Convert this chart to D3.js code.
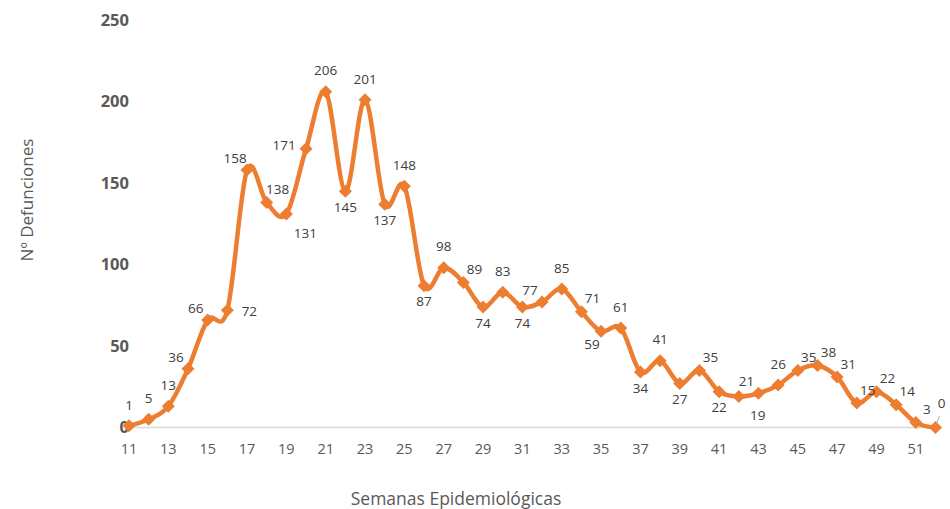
<!DOCTYPE html>
<html lang="es">
<head>
<meta charset="UTF-8">
<title>Defunciones por semana epidemiológica</title>
<style>
  body { margin: 0; background: #fff; }
  svg { display: block; font-family: "Open Sans", "Noto Sans", sans-serif; }
</style>
</head>
<body>
<div id="chart"></div>
<script src="https://cdnjs.cloudflare.com/ajax/libs/d3/7.8.5/d3.min.js"></script>
<script>
// semanas 11..52
var weeks = d3.range(11, 53);
var deaths = [1, 5, 13, 36, 66, 72, 158, 138, 131, 171, 206, 145, 201, 137, 148,
              87, 98, 89, 74, 83, 74, 77, 85, 71, 59, 61, 34, 41, 27, 35, 22,
              19, 21, 26, 35, 38, 31, 15, 22, 14, 3, 0];
// where each data label sits relative to its point
var labelPos = ['n','n','n','nw','nw','e','nw','ne','se','w','n','s','n','s','n',
                's','n','ne','s','n','s','nw','n','ne','sw','n','s','n','s','ne','s',
                'se','nw','n','ne','ne','ne','ne','ne','ne','ne','lead'];
var yTicks = [0, 50, 100, 150, 200, 250];
var xTicks = d3.range(11, 53, 2);

var W = 950, H = 509;
var orange = '#ED7D31', grey = '#595959';

var svg = d3.select('#chart').append('svg')
    .attr('width', W).attr('height', H);

var x = d3.scaleLinear().domain([11, 52]).range([129, 935.5]);
var y = d3.scaleLinear().domain([0, 250]).range([427.5, 20]);

// y tick labels (bold)
svg.append('g').selectAll('text')
    .data(yTicks).enter().append('text')
    .attr('x', 129).attr('y', d => y(d))
    .attr('dy', '0.35em')
    .attr('text-anchor', 'end')
    .style('font-size', '16.5px').style('font-weight', 'bold')
    .attr('fill', grey)
    .text(d => d);

// x axis line
svg.append('line')
    .attr('x1', x(11)).attr('x2', x(52))
    .attr('y1', y(0)).attr('y2', y(0))
    .attr('stroke', '#d9d9d9').attr('stroke-width', 1.5);

svg.append('g').selectAll('text')
    .data(xTicks).enter().append('text')
    .attr('x', d => x(d)).attr('y', 449)
    .attr('dy', '0.35em')
    .attr('text-anchor', 'middle')
    .style('font-size', '14.5px')
    .attr('fill', grey)
    .text(d => d);

// axis titles
svg.append('text')
    .attr('transform', 'translate(33,200) rotate(-90)')
    .attr('text-anchor', 'middle')
    .style('font-size', '17px')
    .attr('fill', grey)
    .text('Nº Defunciones');

svg.append('text')
    .attr('x', 456).attr('y', 505)
    .attr('text-anchor', 'middle')
    .style('font-size', '17.5px')
    .attr('fill', grey)
    .text('Semanas Epidemiológicas');

var pts = weeks.map((w, i) => ({ w: w, v: deaths[i], pos: labelPos[i] }));

var line = d3.line()
    .x(d => x(d.w)).y(d => y(d.v))
    .curve(d3.curveCardinal.tension(0));

svg.append('path')
    .datum(pts)
    .attr('d', line)
    .attr('fill', 'none')
    .attr('stroke', orange)
    .attr('stroke-width', 4.5)
    .attr('stroke-linejoin', 'round');

svg.append('g').selectAll('path')
    .data(pts).enter().append('path')
    .attr('transform', d => 'translate(' + x(d.w) + ',' + y(d.v) + ')')
    .attr('d', 'M0,-6.5L6.5,0L0,6.5L-6.5,0Z')
    .attr('fill', orange);

var off = {
  n: [0, -21], s: [0, 16], e: [22, 1], w: [-22, -3],
  ne: [11, -13], nw: [-12, -12], se: [19, 19], sw: [-9, 13],
  lead: [6, -24]
};

// leader line for the last label
var last = pts[pts.length - 1];
svg.append('line')
    .attr('x1', x(last.w) + 4).attr('y1', y(last.v) - 11)
    .attr('x2', x(last.w)).attr('y2', y(last.v) - 2)
    .attr('stroke', '#a6a6a6').attr('stroke-width', 1);

svg.append('g').selectAll('text')
    .data(pts).enter().append('text')
    .attr('x', d => x(d.w) + off[d.pos][0])
    .attr('y', d => y(d.v) + off[d.pos][1])
    .attr('dy', '0.35em')
    .attr('text-anchor', 'middle')
    .style('font-size', '13.5px')
    .attr('fill', '#404040')
    .text(d => d.v);
</script>
</body>
</html>
